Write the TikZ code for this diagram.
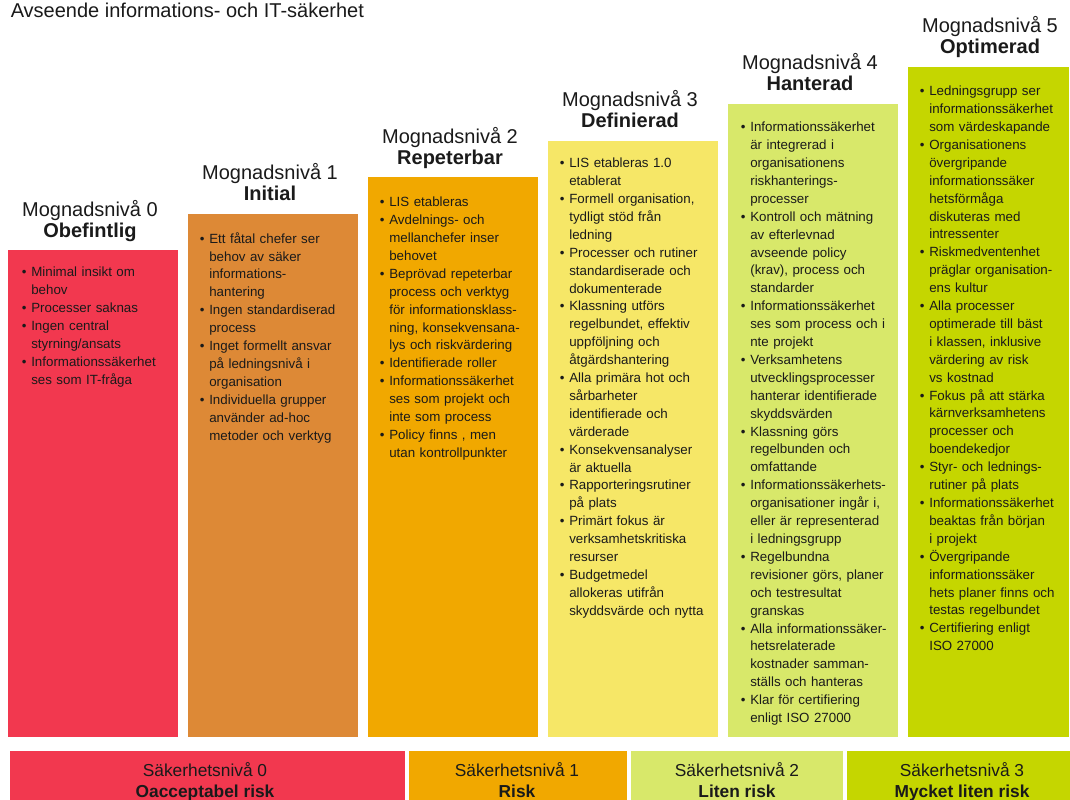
\documentclass[tikz,border=0pt]{standalone}
\usepackage{fontspec}
\setmainfont{Liberation Sans}
\definecolor{ink}{RGB}{26,26,26}
\definecolor{c0}{RGB}{242,56,79}
\definecolor{c1}{RGB}{221,137,54}
\definecolor{c2}{RGB}{241,168,0}
\definecolor{c3}{RGB}{246,231,103}
\definecolor{c4}{RGB}{216,232,106}
\definecolor{c5}{RGB}{197,214,0}
\newcommand\bi[1]{\par\hangindent=7pt\hangafter=1\noindent\makebox[7pt][l]{\strut\textbullet}#1}
\begin{document}
\begin{tikzpicture}[x=0.75pt,y=-0.75pt,
  box/.style={anchor=north west,inner sep=0pt,outer sep=0pt,draw=none},
  list/.style={anchor=north west,inner sep=0pt,text width=130pt,text=ink,font=\fontsize{10}{13.43}\selectfont},
  headA/.style={anchor=base,inner sep=0pt,text=ink,font=\fontsize{15}{18}\selectfont},
  headB/.style={anchor=base,inner sep=0pt,text=ink,font=\fontsize{15}{18}\selectfont\bfseries},
  bandA/.style={anchor=base,inner sep=0pt,text=ink,font=\fontsize{13}{16}\selectfont},
  bandB/.style={anchor=base,inner sep=0pt,text=ink,font=\fontsize{13}{16}\selectfont\bfseries}]
\useasboundingbox (0,0) rectangle (1070,799);
\fill[white] (0,0) rectangle (1070,799);

\node[anchor=base west,inner sep=0pt,text=ink,font=\fontsize{15}{18}\selectfont] (title) at (10.5,17.3) {Avseende informations- och IT-säkerhet};

% columns
\node[box,fill=c0,minimum width=127.5pt,minimum height=365.25pt] (box0) at (8,250) {};
\node[box,fill=c1,minimum width=127.5pt,minimum height=392.6pt] (box1) at (188,213.5) {};
\node[box,fill=c2,minimum width=127.5pt,minimum height=420pt] (box2) at (368,177) {};
\node[box,fill=c3,minimum width=127.5pt,minimum height=447.4pt] (box3) at (548,140.5) {};
\node[box,fill=c4,minimum width=127.5pt,minimum height=475.1pt] (box4) at (728,103.5) {};
\node[box,fill=c5,minimum width=120.75pt,minimum height=502.1pt] (box5) at (908,67.5) {};

% headings
\node[headA] (h0a) at (90,216) {Mognadsnivå 0};
\node[headB] (h0b) at (90,237) {Obefintlig};
\node[headA] (h1a) at (270,179.5) {Mognadsnivå 1};
\node[headB] (h1b) at (270,200.5) {Initial};
\node[headA] (h2a) at (450,143) {Mognadsnivå 2};
\node[headB] (h2b) at (450,164) {Repeterbar};
\node[headA] (h3a) at (630,106.5) {Mognadsnivå 3};
\node[headB] (h3b) at (630,127.5) {Definierad};
\node[headA] (h4a) at (810,69.5) {Mognadsnivå 4};
\node[headB] (h4b) at (810,90.5) {Hanterad};
\node[headA] (h5a) at (990,33) {Mognadsnivå 5};
\node[headB] (h5b) at (990,54) {Optimerad};

% lists
\node[list] (l0) at (21.7,258.5) {%
\bi{Minimal insikt om\newline behov}
\bi{Processer saknas}
\bi{Ingen central\newline styrning/ansats}
\bi{Informationssäkerhet\newline ses som IT-fråga}\par};

\node[list] (l1) at (199.7,225) {%
\bi{Ett fåtal chefer ser\newline behov av säker\newline informations-\newline hantering}
\bi{Ingen standardiserad\newline process}
\bi{Inget formellt ansvar\newline på ledningsnivå i\newline organisation}
\bi{Individuella grupper\newline använder ad-hoc\newline metoder och verktyg}\par};

\node[list] (l2) at (379.7,188.5) {%
\bi{LIS etableras}
\bi{Avdelnings- och\newline mellanchefer inser\newline behovet}
\bi{Beprövad repeterbar\newline process och verktyg\newline för informationsklass-\newline ning, konsekvensana-\newline lys och riskvärdering}
\bi{Identifierade roller}
\bi{Informationssäkerhet\newline ses som projekt och\newline inte som process}
\bi{Policy finns , men\newline utan kontrollpunkter}\par};

\node[list] (l3) at (559.7,149.5) {%
\bi{LIS etableras 1.0\newline etablerat}
\bi{Formell organisation,\newline tydligt stöd från\newline ledning}
\bi{Processer och rutiner\newline standardiserade och\newline dokumenterade}
\bi{Klassning utförs\newline regelbundet, effektiv\newline uppföljning och\newline åtgärdshantering}
\bi{Alla primära hot och\newline sårbarheter\newline identifierade och\newline värderade}
\bi{Konsekvensanalyser\newline är aktuella}
\bi{Rapporteringsrutiner\newline på plats}
\bi{Primärt fokus är\newline verksamhetskritiska\newline resurser}
\bi{Budgetmedel\newline allokeras utifrån\newline skyddsvärde och nytta}\par};

\node[list] (l4) at (740.7,113.5) {%
\bi{Informationssäkerhet\newline är integrerad i\newline organisationens\newline riskhanterings-\newline processer}
\bi{Kontroll och mätning\newline av efterlevnad\newline avseende policy\newline (krav), process och\newline standarder}
\bi{Informationssäkerhet\newline ses som process och i\newline nte projekt}
\bi{Verksamhetens\newline utvecklingsprocesser\newline hanterar identifierade\newline skyddsvärden}
\bi{Klassning görs\newline regelbunden och\newline omfattande}
\bi{Informationssäkerhets-\newline organisationer ingår i,\newline eller är representerad\newline i ledningsgrupp}
\bi{Regelbundna\newline revisioner görs, planer\newline och testresultat\newline granskas}
\bi{Alla informationssäker-\newline hetsrelaterade\newline kostnader samman-\newline ställs och hanteras}
\bi{Klar för certifiering\newline enligt ISO 27000}\par};

\node[list] (l5) at (919.7,77.5) {%
\bi{Ledningsgrupp ser\newline informationssäkerhet\newline som värdeskapande}
\bi{Organisationens\newline övergripande\newline informationssäker\newline hetsförmåga\newline diskuteras med\newline intressenter}
\bi{Riskmedventenhet\newline präglar organisation-\newline ens kultur}
\bi{Alla processer\newline optimerade till bäst\newline i klassen, inklusive\newline värdering av risk\newline vs kostnad}
\bi{Fokus på att stärka\newline kärnverksamhetens\newline processer och\newline boendekedjor}
\bi{Styr- och lednings-\newline rutiner på plats}
\bi{Informationssäkerhet\newline beaktas från början\newline i projekt}
\bi{Övergripande\newline informationssäker\newline hets planer finns och\newline testas regelbundet}
\bi{Certifiering enligt\newline ISO 27000}\par};

% bottom bands
\node[box,fill=c0,minimum width=296.25pt,minimum height=40pt] (band0) at (10,751) {};
\node[box,fill=c2,minimum width=163.5pt,minimum height=40pt] (band1) at (409,751) {};
\node[box,fill=c4,minimum width=159pt,minimum height=40pt] (band2) at (631,751) {};
\node[box,fill=c5,minimum width=170pt,minimum height=40pt] (band3) at (847,751) {};

\node[bandA] (b0a) at (205,776) {Säkerhetsnivå 0};
\node[bandB] (b0b) at (205,797) {Oacceptabel risk};
\node[bandA] (b1a) at (517,776) {Säkerhetsnivå 1};
\node[bandB] (b1b) at (517,797) {Risk};
\node[bandA] (b2a) at (737,776) {Säkerhetsnivå 2};
\node[bandB] (b2b) at (737,797) {Liten risk};
\node[bandA] (b3a) at (962,776) {Säkerhetsnivå 3};
\node[bandB] (b3b) at (962,797) {Mycket liten risk};
\end{tikzpicture}
\end{document}
